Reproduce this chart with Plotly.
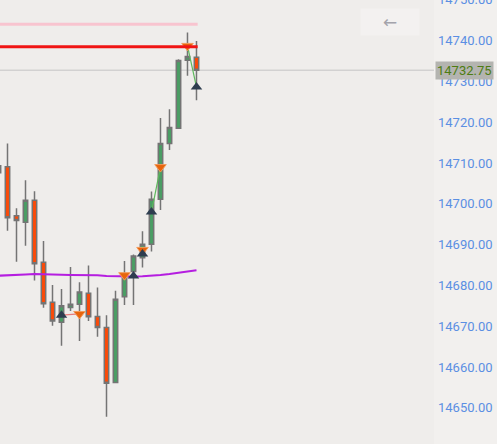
import plotly.graph_objects as go

# ---------------- data ----------------
idx = list(range(23))
opens  = [14707.6, 14709.1, 14697.1, 14695.5, 14700.9, 14685.7, 14675.9, 14671.0, 14674.6, 14675.4,
          14678.1, 14672.4, 14669.7, 14656.2, 14677.2, 14683.4, 14686.8, 14690.1, 14701.1, 14714.8,
          14718.5, 14735.2, 14735.9]
highs  = [14710.5, 14714.8, 14698.9, 14705.8, 14703.1, 14690.9, 14680.1, 14679.1, 14684.5, 14680.8,
          14684.9, 14679.5, 14672.7, 14678.7, 14686.0, 14687.6, 14693.3, 14703.0, 14721.0, 14723.2,
          14735.4, 14742.0, 14739.9]
lows   = [14706.0, 14693.4, 14685.8, 14689.7, 14681.2, 14674.5, 14670.1, 14665.2, 14673.7, 14666.4,
          14671.3, 14667.4, 14647.8, 14656.2, 14675.2, 14675.2, 14684.4, 14688.3, 14698.5, 14713.2,
          14718.5, 14731.4, 14725.4]
closes = [14709.3, 14696.6, 14695.9, 14700.9, 14685.3, 14675.5, 14671.3, 14675.0, 14675.4, 14678.4,
          14672.3, 14669.7, 14656.0, 14676.6, 14682.1, 14687.2, 14690.1, 14701.1, 14714.8, 14718.7,
          14735.1, 14736.1, 14732.75]
ma_values = [14682.38, 14682.43, 14682.55, 14682.67, 14682.80, 14682.80, 14682.72, 14682.62, 14682.55,
             14682.55, 14682.55, 14682.48, 14682.30, 14682.23, 14682.13, 14682.18, 14682.23, 14682.30,
             14682.55, 14682.80, 14683.04, 14683.36, 14683.70]

buy_idx = [7, 15, 16, 17, 22]
buy_val = [14672.7, 14682.3, 14687.7, 14698.0, 14728.6]
sell_idx = [9, 14, 16, 18, 21]
sell_val = [14673.0, 14682.5, 14688.7, 14709.0, 14738.7]

# trades: (x0, y0, x1, y1, colour-kind)
trades = [(7, 14672.7, 9, 14673.0, "loss"),
          (17, 14698.0, 18, 14709.0, "win"),
          (21, 14738.7, 22, 14728.6, "win")]

pink_level = 14744.0
red_level = 14738.5
last_price = 14732.75

tick_vals = [14650, 14660, 14670, 14680, 14690, 14700, 14710, 14720, 14730, 14740]
y_min, y_max = 14641.13, 14749.95
x_min, x_max = 0.167, 48.39

# ---------------- figure ----------------
fig = go.Figure()

fig.add_trace(go.Candlestick(
    x=idx, open=opens, high=highs, low=lows, close=closes,
    increasing=dict(fillcolor="#4a9e64", line=dict(color="#747474", width=1.5)),
    decreasing=dict(fillcolor="#fb4a08", line=dict(color="#747474", width=1.5)),
    whiskerwidth=0, showlegend=False, hoverinfo="skip"))

fig.add_trace(go.Scatter(x=idx, y=ma_values, mode="lines",
                         line=dict(color="#b51ee0", width=2), showlegend=False, hoverinfo="skip"))

for x0, y0, x1, y1, kind in trades:
    fig.add_trace(go.Scatter(x=[x0, x1], y=[y0, y1], mode="lines",
                             line=dict(color="#5cb85c" if kind == "win" else "#e87a7a", width=1.2),
                             showlegend=False, hoverinfo="skip"))

fig.add_trace(go.Scatter(x=sell_idx, y=sell_val, mode="markers",
                         marker=dict(symbol="triangle-down", size=10, color="#e8640c",
                                     line=dict(color="#f29a5a", width=1)),
                         showlegend=False, hoverinfo="skip"))
fig.add_trace(go.Scatter(x=buy_idx, y=buy_val, mode="markers",
                         marker=dict(symbol="triangle-up", size=10, color="#2e3d4f",
                                     line=dict(color="#2e3d4f", width=0)),
                         showlegend=False, hoverinfo="skip"))

last_x = idx[-1] + 0.13
shapes = [
    dict(type="line", xref="x", yref="y", x0=x_min, x1=last_x, y0=pink_level, y1=pink_level,
         line=dict(color="#f8c4cf", width=3), layer="below"),
    dict(type="line", xref="x", yref="y", x0=x_min, x1=last_x, y0=red_level, y1=red_level,
         line=dict(color="#f01414", width=3)),
    dict(type="line", xref="paper", yref="y", x0=0, x1=1, y0=last_price, y1=last_price,
         line=dict(color="#c4c4c4", width=1), layer="below"),
]

span = y_max - y_min
annotations = [
    dict(xref="paper", yref="y", x=1.0, y=last_price, xanchor="left", yanchor="middle",
         text=f"{last_price:.2f}", showarrow=False, xshift=1,
         font=dict(family="Roboto", size=13, color="#4d7c12"),
         bgcolor="#b4b4b0", borderpad=1),
    dict(xref="paper", yref="paper", x=(390 / 434), y=1 - 22.5 / 444, xanchor="center", yanchor="middle",
         text="←", showarrow=False,
         font=dict(family="DejaVu Sans", size=17, color="#a3a3ab"),
         bgcolor="#f3f1f0", width=56, height=24),
    dict(xref="paper", yref="paper", x=1.0, y=(14750 - y_min) / span, xanchor="left", yanchor="middle",
         text="14750.00", showarrow=False, xshift=2,
         font=dict(family="Roboto", size=13, color="#5b8fe3")),
    dict(xref="paper", yref="paper", x=1.0, y=(14640 - y_min) / span, xanchor="left", yanchor="middle",
         text="14640.00", showarrow=False, xshift=2,
         font=dict(family="Roboto", size=13, color="#5b8fe3")),
]

fig.update_layout(
    width=497, height=444,
    margin=dict(l=0, r=63, t=0, b=0),
    paper_bgcolor="#f2f0ee", plot_bgcolor="#efedeb",
    shapes=shapes, annotations=annotations,
    xaxis=dict(range=[x_min, x_max], visible=False, rangeslider=dict(visible=False),
               showgrid=False, zeroline=False, fixedrange=True),
    yaxis=dict(range=[y_min, y_max], side="right", tickvals=tick_vals, tickformat=".2f",
               showgrid=False, zeroline=False, showline=False, ticks="",
               ticklabelstandoff=3,
               tickfont=dict(family="Roboto", size=13, color="#5b8fe3"), fixedrange=True),
    hovermode=False,
)

fig.write_html("out.html", config=dict(displayModeBar=False),
               post_script="document.body.style.margin='0';document.body.style.padding='0';"
                           "document.body.style.overflow='hidden';")
